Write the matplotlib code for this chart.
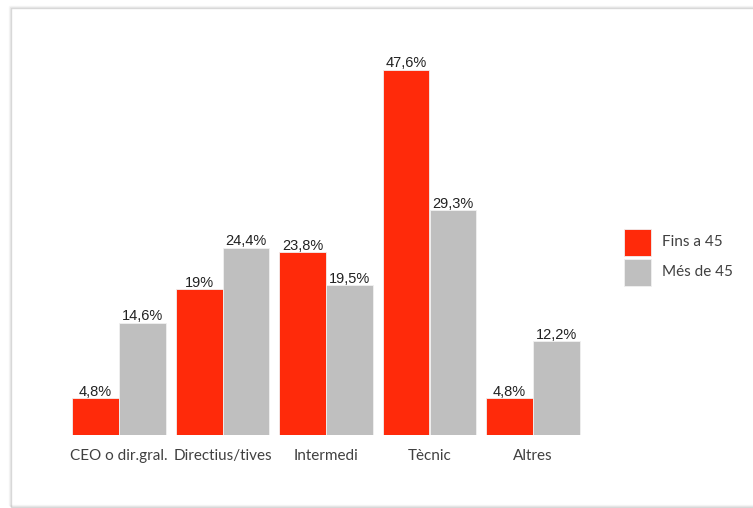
import matplotlib.pyplot as plt
import numpy as np
from matplotlib.patches import Rectangle

categories = ['CEO o dir.gral.', 'Directius/tives', 'Intermedi', 'Tècnic', 'Altres']
fins_45 = [4.8, 19.0, 23.8, 47.6, 4.8]
mes_45 = [14.6, 24.4, 19.5, 29.3, 12.2]
series_names = ['Fins a 45', 'Més de 45']

red = '#FF2A0A'
grey = '#BFBFBF'

fig = plt.figure(figsize=(7.53, 5.08), dpi=100)

# soft frame around the chart area
for i, a in enumerate([0.35, 0.18, 0.08]):
    fig.patches.append(Rectangle((11 / 753 - i / 753, 1 - 8 / 508 + i / 508), 1.0, -(499 / 508),
                                 transform=fig.transFigure, fill=False,
                                 edgecolor='#9a9a9a', alpha=a, lw=1.0))

ax = fig.add_axes([67.25 / 753, 73 / 508, 517.5 / 753, 383.5 / 508])

x = np.arange(len(categories))
w = 0.453
b1 = ax.bar(x - w / 2, fins_45, w, color=red, edgecolor='#f0f0f0', linewidth=0.6, label=series_names[0])
b2 = ax.bar(x + w / 2, mes_45, w, color=grey, edgecolor='#f0f0f0', linewidth=0.6, label=series_names[1])


def fmt(v):
    s = f'{v:.1f}'.replace('.', ',')
    if s.endswith(',0'):
        s = s[:-2]
    return s + '%'


for bars, vals in [(b1, fins_45), (b2, mes_45)]:
    for r, v in zip(bars, vals):
        ax.text(r.get_x() + r.get_width() / 2, v - 0.05, fmt(v), ha='center', va='bottom',
                fontsize=10.5, family='Liberation Sans', color='#222222')

ax.set_xlim(-0.5, 4.5)
ax.set_ylim(0, 50)
ax.set_xticks(x)
ax.set_xticklabels(categories, fontsize=11, family='Lato', color='#404040')
ax.tick_params(axis='x', length=0, pad=10)
ax.set_yticks([])
for s in ax.spines.values():
    s.set_visible(False)

# legend: colour squares with series names
for k, (name, col) in enumerate(zip(series_names, [red, grey])):
    top = 229 + k * 29.5
    fig.patches.append(Rectangle((624 / 753, 1 - (top + 27) / 508), 27 / 753, 27 / 508,
                                 transform=fig.transFigure, facecolor=col,
                                 edgecolor='#f0f0f0', lw=0.6))
    fig.text(662 / 753, 1 - (top + 13.5) / 508, name, ha='left', va='center',
             family='Lato', fontsize=11, color='#404040')

fig.savefig('out.png', dpi=100)
